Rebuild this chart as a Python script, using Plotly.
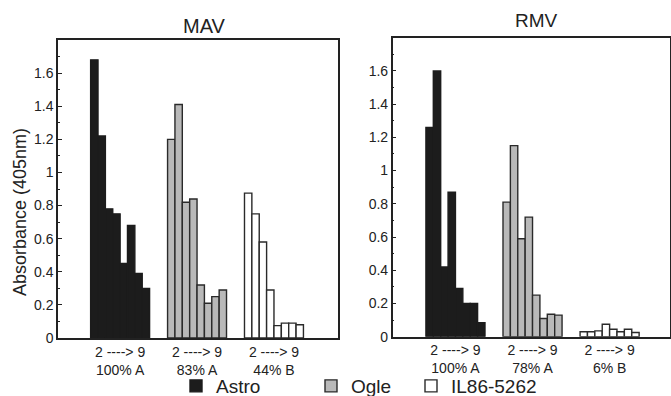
import plotly.graph_objects as go

# ---------------- data ----------------
varieties = ["Astro", "Ogle", "IL86-5262"]
dilutions = [2, 3, 4, 5, 6, 7, 8, 9]

mav_astro = [1.68, 1.22, 0.78, 0.75, 0.45, 0.68, 0.39, 0.30]
mav_ogle = [1.20, 1.41, 0.82, 0.84, 0.32, 0.21, 0.25, 0.29]
mav_il = [0.875, 0.75, 0.58, 0.29, 0.075, 0.09, 0.09, 0.08]

rmv_astro = [1.26, 1.60, 0.42, 0.87, 0.29, 0.20, 0.20, 0.085]
rmv_ogle = [0.81, 1.15, 0.59, 0.72, 0.25, 0.11, 0.135, 0.13]
rmv_il = [0.03, 0.03, 0.035, 0.075, 0.045, 0.03, 0.045, 0.025]

mav_labels = ["2 ----> 9<br>100% A", "2 ----> 9<br>83% A", "2 ----> 9<br>44% B"]
rmv_labels = ["2 ----> 9<br>100% A", "2 ----> 9<br>78% A", "2 ----> 9<br>6% B"]

y_tickvals = [0, 0.2, 0.4, 0.6, 0.8, 1.0, 1.2, 1.4, 1.6]
y_ticktext = ["0", "0.2", "0.4", "0.6", "0.8", "1", "1.2", "1.4", "1.6"]

# ---------------- styling ----------------
FONT = "Liberation Sans, Arial, Helvetica, sans-serif"
INK = "#222222"
fills = {"Astro": "#1c1c1c", "Ogle": "#b9b9b9", "IL86-5262": "#ffffff"}
lines = {"Astro": "#1c1c1c", "Ogle": "#2a2a2a", "IL86-5262": "#2a2a2a"}
legend_ids = {"Astro": "legend", "Ogle": "legend2", "IL86-5262": "legend3"}
GROUP_STEP = 10.44

fig = go.Figure()

panels = [
    ("x", "y", [mav_astro, mav_ogle, mav_il], True),
    ("x2", "y2", [rmv_astro, rmv_ogle, rmv_il], False),
]
for xa, ya, series, show in panels:
    for g, (name, vals) in enumerate(zip(varieties, series)):
        xs = [g * GROUP_STEP + i for i in range(len(dilutions))]
        fig.add_trace(go.Bar(
            x=xs, y=vals, width=1.0, name=name,
            marker=dict(color=fills[name], line=dict(color=lines[name], width=1.4)),
            xaxis=xa, yaxis=ya, showlegend=show, legendgroup=name,
            legend=legend_ids[name], customdata=dilutions,
        ))

centers = [g * GROUP_STEP + (len(dilutions) - 1) / 2 for g in range(len(varieties))]

axis_common = dict(showline=True, linecolor=INK, linewidth=1.5, mirror=True,
                   showgrid=False, zeroline=False, automargin=False)


def legend_at(px):
    return dict(orientation="h", x=px / 671, y=1 - 386 / 396,
                xanchor="left", yanchor="middle",
                font=dict(size=19, family=FONT, color=INK),
                bgcolor="rgba(0,0,0,0)", itemclick=False, itemdoubleclick=False)


fig.update_layout(
    width=671, height=396,
    margin=dict(l=0, r=0, t=0, b=0, autoexpand=False),
    paper_bgcolor="white", plot_bgcolor="white",
    barmode="overlay",
    font=dict(family=FONT, color=INK, size=13),
    xaxis=dict(domain=[58 / 671, 338 / 671], range=[-4.93, 33.07],
               tickvals=centers, ticktext=mav_labels, ticks="",
               tickfont=dict(size=14), anchor="y", **axis_common),
    yaxis=dict(domain=[1 - 338 / 396, 1 - 40 / 396], range=[0, 1.8],
               tickvals=y_tickvals, ticktext=y_ticktext, ticks="inside", ticklen=4,
               tickcolor=INK, tickfont=dict(size=14), anchor="x",
               minor=dict(dtick=0.1, ticks="inside", ticklen=2, tickcolor=INK),
               **axis_common),
    xaxis2=dict(domain=[392.7 / 671, 670 / 671], range=[-5.0, 32.56],
                tickvals=centers, ticktext=rmv_labels, ticks="",
                tickfont=dict(size=14), anchor="y2", **axis_common),
    yaxis2=dict(domain=[1 - 336.7 / 396, 1 - 37.7 / 396], range=[0, 1.8],
                tickvals=y_tickvals, ticktext=y_ticktext, ticks="inside", ticklen=4,
                tickcolor=INK, tickfont=dict(size=14), anchor="x2",
                minor=dict(dtick=0.1, ticks="inside", ticklen=2, tickcolor=INK),
                **axis_common),
    legend=legend_at(176),
    legend2=legend_at(311),
    legend3=legend_at(411),
    annotations=[
        dict(text="MAV", x=204 / 671, y=1 - 26 / 396, xref="paper", yref="paper",
             xanchor="center", yanchor="middle",
             showarrow=False, font=dict(size=20, family=FONT, color=INK)),
        dict(text="RMV", x=536 / 671, y=1 - 21 / 396, xref="paper", yref="paper",
             xanchor="center", yanchor="middle",
             showarrow=False, font=dict(size=19, family=FONT, color=INK)),
        dict(text="Absorbance (405nm)", textangle=-90,
             x=20 / 671, y=1 - 212 / 396, xref="paper", yref="paper",
             xanchor="center", yanchor="middle",
             showarrow=False, font=dict(size=18, family=FONT, color=INK)),
    ],
)

fig.write_html("out.html", config={"displayModeBar": False},
               post_script="document.body.style.margin='0px';")
